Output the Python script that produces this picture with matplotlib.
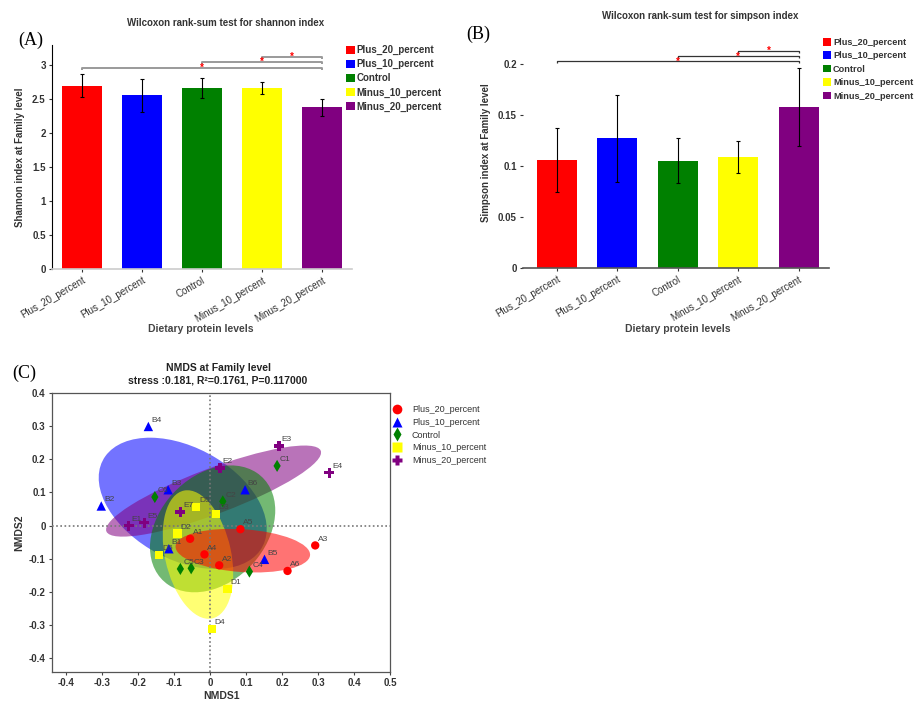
import numpy as np
import matplotlib
matplotlib.use("Agg")
import matplotlib.pyplot as plt
from matplotlib.patches import Ellipse, Patch
from matplotlib.lines import Line2D

plt.rcParams['font.family'] = ['Liberation Sans', 'DejaVu Sans']

# ---------------- data ----------------
groups = ["Plus_20_percent", "Plus_10_percent", "Control", "Minus_10_percent", "Minus_20_percent"]
colors = ["#FF0000", "#0000FF", "#008000", "#FFFF00", "#800080"]

shannon_mean = [2.70, 2.56, 2.67, 2.67, 2.38]
shannon_err = [0.17, 0.24, 0.15, 0.085, 0.125]
shannon_sig = [(0, 4, "*"), (2, 4, "*"), (3, 4, "*")]

simpson_mean = [0.106, 0.127, 0.105, 0.109, 0.158]
simpson_err = [0.031, 0.043, 0.022, 0.016, 0.038]
simpson_sig = [(0, 4, "*"), (2, 4, "*"), (3, 4, "*")]

A_x = [-0.056, 0.025, 0.292, -0.016, 0.084, 0.215]
A_y = [-0.040, -0.120, -0.060, -0.087, -0.011, -0.137]
A_lab = ["A1", "A2", "A3", "A4", "A5", "A6"]
B_x = [-0.115, -0.303, -0.117, -0.172, 0.151, 0.097]
B_y = [-0.070, 0.059, 0.108, 0.299, -0.102, 0.108]
B_lab = ["B1", "B2", "B3", "B4", "B5", "B6"]
C_x = [0.186, 0.035, -0.053, 0.109, -0.083, -0.154]
C_y = [0.180, 0.073, -0.129, -0.139, -0.131, 0.086]
C_lab = ["C1", "C2", "C3", "C4", "C5", "C6"]
D_x = [0.048, -0.091, 0.016, 0.004, -0.039, -0.142]
D_y = [-0.192, -0.024, 0.034, -0.311, 0.056, -0.088]
D_lab = ["D1", "D2", "D3", "D4", "D5", "D6"]
E_x = [-0.227, 0.027, 0.191, 0.331, -0.183, -0.083]
E_y = [0.000, 0.174, 0.240, 0.160, 0.009, 0.041]
E_lab = ["E1", "E2", "E3", "E4", "E5", "E7"]

nmds_title = "NMDS at Family level"
nmds_sub = "stress :0.181, R\u00b2=0.1761, P=0.117000"

# ---------------- figure ----------------
W, H = 918, 702
fig = plt.figure(figsize=(W / 100, H / 100), dpi=100)


def ax_px(l, t, r, b):
    return fig.add_axes([l / W, 1 - b / H, (r - l) / W, (b - t) / H])


def bracket(ax, i, j, h, drop, color, lw, star):
    ax.plot([i, i, j, j], [h - drop, h, h, h - drop], color=color, lw=lw,
            clip_on=False, solid_capstyle='butt')
    ax.text((i + j) / 2, h, star, color='red', ha='center', va='center',
            fontsize=7, fontweight='bold')


def bar_panel(ax, means, errs, ylim, yticks, yticklabels, ylabel, sig, sig_base,
              sig_step, sig_drop, sig_color, sig_lw, xlim):
    x = np.arange(len(groups))
    ax.bar(x, means, width=0.66, color=colors, zorder=2)
    ax.errorbar(x, means, yerr=errs, fmt='none', ecolor='black', elinewidth=0.8,
                capsize=1.5, capthick=0.8, zorder=3)
    ax.set_xlim(*xlim)
    ax.set_ylim(*ylim)
    ax.set_yticks(yticks)
    ax.set_yticklabels(yticklabels, fontsize=7, fontweight='bold', color='#333333')
    ax.set_xticks(x)
    ax.set_xticklabels(groups, rotation=30, ha='right', rotation_mode='anchor',
                       fontsize=7, color='#333333')
    ax.tick_params(axis='both', length=2.5, width=0.8, colors='#333333', pad=2)
    ax.spines['top'].set_visible(False)
    ax.spines['right'].set_visible(False)
    ax.set_ylabel(ylabel, fontsize=7, fontweight='bold', color='#333333', labelpad=5)
    for k, (i, j, s) in enumerate(sig):
        bracket(ax, i, j, sig_base + k * sig_step, sig_drop, sig_color, sig_lw, s)


# Panel A
axA = ax_px(52, 45, 352, 269)
bar_panel(axA, shannon_mean, shannon_err, (0, 3.3), [0, 0.5, 1, 1.5, 2, 2.5, 3],
          ["0", "0.5", "1", "1.5", "2", "2.5", "3"], "Shannon index at Family level",
          shannon_sig, 2.965, 0.08, 0.03, '#9a9a9a', 1.4, (-0.5, 4.5))
axA.spines['left'].set_color('black')
axA.spines['bottom'].set_color('#cccccc')
axA.spines['bottom'].set_linewidth(1.2)
fig.text(226 / W, 1 - 23 / H, "Wilcoxon rank-sum test for shannon index",
         ha='center', va='center', fontsize=7, fontweight='bold', color='#333333')
fig.text(201 / W, 1 - 329 / H, "Dietary protein levels", ha='center', va='center',
         fontsize=7.5, fontweight='bold', color='#444444')
fig.text(18 / W, 1 - 40 / H, "(A)", family='Liberation Serif', fontsize=13,
         ha='left', va='center')
legA = fig.legend(handles=[Patch(facecolor=c, edgecolor='none') for c in colors],
                  labels=groups, loc='upper left',
                  bbox_to_anchor=(346 / W, 1 - 45 / H), frameon=False, fontsize=7,
                  handlelength=0.9, handleheight=0.9, handletextpad=0.2,
                  labelspacing=0.42, borderpad=0, borderaxespad=0)
for t in legA.get_texts():
    t.set_fontweight('bold')
    t.set_color('#333333')

# Panel B
axB = ax_px(523, 38, 829, 268)
bar_panel(axB, simpson_mean, simpson_err, (0, 0.2255), [0, 0.05, 0.1, 0.15, 0.2],
          ["0", "0.05", "0.1", "0.15", "0.2"], "Simpson index at Family level",
          simpson_sig, 0.2025, 0.005, 0.0015, '#333333', 0.9, (-0.56, 4.5))
axB.spines['left'].set_visible(False)
axB.spines['bottom'].set_color('#555555')
axB.spines['bottom'].set_linewidth(1.2)
fig.text(700 / W, 1 - 16 / H, "Wilcoxon rank-sum test for simpson index",
         ha='center', va='center', fontsize=7, fontweight='bold', color='#333333')
fig.text(678 / W, 1 - 329 / H, "Dietary protein levels", ha='center', va='center',
         fontsize=7.5, fontweight='bold', color='#444444')
fig.text(466 / W, 1 - 34 / H, "(B)", family='Liberation Serif', fontsize=13,
         ha='left', va='center')
legB = fig.legend(handles=[Patch(facecolor=c, edgecolor='none') for c in colors],
                  labels=groups, loc='upper left',
                  bbox_to_anchor=(823 / W, 1 - 38 / H), frameon=False, fontsize=6.6,
                  handlelength=0.9, handleheight=0.9, handletextpad=0.2,
                  labelspacing=0.48, borderpad=0, borderaxespad=0)
for t in legB.get_texts():
    t.set_fontweight('bold')
    t.set_color('#333333')

# Panel C
axC = ax_px(52, 393, 390, 672)
grp_x = [A_x, B_x, C_x, D_x, E_x]
grp_y = [A_y, B_y, C_y, D_y, E_y]
grp_lab = [A_lab, B_lab, C_lab, D_lab, E_lab]
markers = ['o', '^', 'd', 's', 'P']
msizes = [36, 46, 38, 34, 52]
ell_order = [1, 4, 2, 3, 0]
n_std = 1.37
ell_alpha = 0.55

for g in ell_order:
    xs = np.asarray(grp_x[g]); ys = np.asarray(grp_y[g])
    cov = np.cov(xs, ys)
    vals, vecs = np.linalg.eigh(cov)
    order = vals.argsort()[::-1]
    vals, vecs = vals[order], vecs[:, order]
    ang = np.degrees(np.arctan2(vecs[1, 0], vecs[0, 0]))
    e = Ellipse((xs.mean(), ys.mean()), 2 * n_std * np.sqrt(vals[0]),
                2 * n_std * np.sqrt(vals[1]), angle=ang, facecolor=colors[g],
                edgecolor='none', alpha=ell_alpha, zorder=2)
    axC.add_patch(e)

axC.axvline(0, color='#777777', lw=1.2, ls=(0, (1, 1.5)), zorder=3)
axC.axhline(0, color='#777777', lw=1.2, ls=(0, (1, 1.5)), zorder=3)

for g in range(5):
    axC.scatter(grp_x[g], grp_y[g], marker=markers[g], s=msizes[g], c=colors[g],
                edgecolors='none', zorder=5)
    for xx, yy, lab in zip(grp_x[g], grp_y[g], grp_lab[g]):
        axC.annotate(lab, (xx, yy), xytext=(2, 2), textcoords='offset points',
                     fontsize=6, color='#444444', ha='left', va='bottom', zorder=6)

axC.set_xlim(-0.44, 0.5)
axC.set_ylim(-0.442, 0.40)
axC.set_xticks(np.round(np.arange(-0.4, 0.51, 0.1), 1))
axC.set_xticklabels(["-0.4", "-0.3", "-0.2", "-0.1", "0", "0.1", "0.2", "0.3", "0.4", "0.5"])
axC.set_yticks(np.round(np.arange(-0.4, 0.41, 0.1), 1))
axC.set_yticklabels(["-0.4", "-0.3", "-0.2", "-0.1", "0", "0.1", "0.2", "0.3", "0.4"])
axC.tick_params(axis='both', length=2.5, width=0.8, colors='#444444', labelsize=7, pad=2)
for t in axC.get_xticklabels() + axC.get_yticklabels():
    t.set_fontweight('bold')
    t.set_color('#333333')
for s in axC.spines.values():
    s.set_color('#555555')
    s.set_linewidth(0.9)
axC.set_xlabel("NMDS1", fontsize=7.5, fontweight='bold', color='#333333', labelpad=2)
axC.set_ylabel("NMDS2", fontsize=7.5, fontweight='bold', color='#333333', labelpad=3)
fig.text(218 / W, 1 - 368 / H, nmds_title, ha='center', va='center', fontsize=7.5,
         fontweight='bold', color='#222222')
fig.text(218 / W, 1 - 381 / H, nmds_sub, ha='center', va='center', fontsize=7.5,
         fontweight='bold', color='#222222')
fig.text(12 / W, 1 - 373 / H, "(C)", family='Liberation Serif', fontsize=13,
         ha='left', va='center')

legC = fig.legend(handles=[Line2D([], [], ls='none', marker=m, color=c, markersize=7,
                                  markeredgecolor='none') for m, c in zip(markers, colors)],
                  labels=groups, loc='upper left', bbox_to_anchor=(392 / W, 1 - 405 / H),
                  frameon=False, fontsize=6.5, handlelength=1.2, handletextpad=1.0,
                  labelspacing=0.42, borderpad=0, borderaxespad=0)
for t in legC.get_texts():
    t.set_color('#333333')

fig.savefig("out.png", dpi=100)
